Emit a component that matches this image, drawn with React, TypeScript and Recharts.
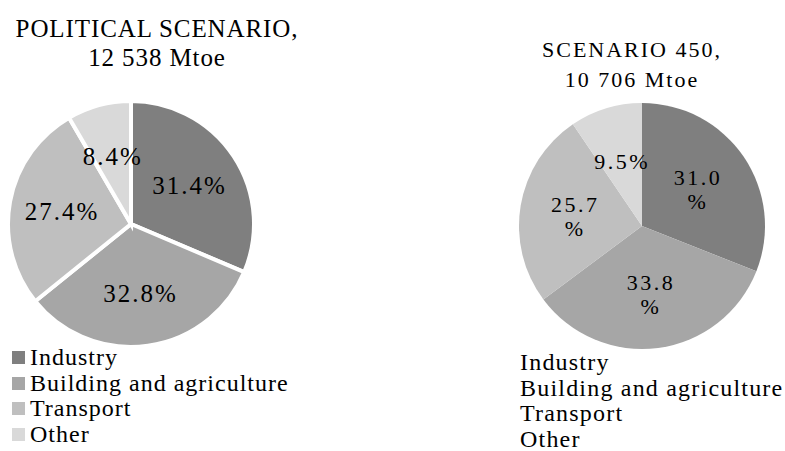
import { PieChart, Pie, Cell } from 'recharts';

const SERIF = '"Liberation Serif", "Times New Roman", serif';

const categories = ['Industry', 'Building and agriculture', 'Transport', 'Other'];
const politicalShares = [31.4, 32.8, 27.4, 8.4];
const scenario450Shares = [31.0, 33.8, 25.7, 9.5];
const COLORS = ['#7f7f7f', '#a6a6a6', '#bfbfbf', '#d9d9d9'];

const politicalData = categories.map((name, i) => ({ name, value: politicalShares[i] }));
const scenarioData = categories.map((name, i) => ({ name, value: scenario450Shares[i] }));

const RAD = Math.PI / 180;

function labelAt(factor: number, split: boolean) {
  return (props: any) => {
    const { cx, cy, midAngle, outerRadius, value, index } = props;
    const r = outerRadius * factor;
    const x = cx + r * Math.cos(-midAngle * RAD);
    const y = cy + r * Math.sin(-midAngle * RAD);
    const txt = value.toFixed(1);
    // the small slice keeps its label on one line
    if (split && index !== 3) {
      return (
        <text x={x} y={y} textAnchor="middle" fill="#000" fontSize={22} letterSpacing={2.5} fontFamily={SERIF}>
          <tspan x={x} dy={-3}>{txt}</tspan>
          <tspan x={x} dy={24}>%</tspan>
        </text>
      );
    }
    return (
      <text
        x={x}
        y={y}
        textAnchor="middle"
        dominantBaseline="central"
        fill="#000"
        fontSize={split ? 22 : 25}
        letterSpacing={split ? 2.5 : 2}
        fontFamily={SERIF}
      >
        {txt}%
      </text>
    );
  };
}

function LegendList({ icons, left, top, spacing }: { icons: boolean; left: number; top: number; spacing: number }) {
  return (
    <div style={{ position: 'absolute', left, top, fontFamily: SERIF, fontSize: 24, letterSpacing: spacing, lineHeight: '25.5px', color: '#000' }}>
      {categories.map((name, i) => (
        <div key={name} style={{ display: 'flex', alignItems: 'center', whiteSpace: 'nowrap' }}>
          {icons && (
            <span style={{ display: 'inline-block', width: 13, height: 13, background: COLORS[i], marginRight: 5 }} />
          )}
          {name}
        </div>
      ))}
    </div>
  );
}

export default function App() {
  return (
    <div style={{ position: 'absolute', left: 0, top: 0, width: 785, height: 451, background: '#fff', overflow: 'hidden' }}>
      <div style={{ position: 'absolute', left: 0, top: 14, width: 314, textAlign: 'center', fontFamily: SERIF, fontSize: 25, letterSpacing: 0.9, lineHeight: '29px' }}>
        POLITICAL SCENARIO,<br />12 538 Mtoe
      </div>
      <div style={{ position: 'absolute', left: 522, top: 35, width: 220, textAlign: 'center', fontFamily: SERIF, fontSize: 22, letterSpacing: 2, lineHeight: '30px' }}>
        SCENARIO 450,<br />10 706 Mtoe
      </div>

      <div style={{ position: 'absolute', left: 0, top: 92 }}>
        <PieChart width={270} height={264}>
          <Pie
            data={politicalData}
            dataKey="value"
            nameKey="name"
            cx={126}
            cy={127}
            outerRadius={123}
            startAngle={90}
            endAngle={-270}
            stroke="#fff"
            strokeWidth={4}
            labelLine={false}
            label={labelAt(0.57, false)}
            isAnimationActive={false}
          >
            {politicalData.map((d, i) => (
              <Cell key={d.name} fill={COLORS[i]} />
            ))}
          </Pie>
        </PieChart>
      </div>
      <LegendList icons left={12} top={345} spacing={1} />

      <div style={{ position: 'absolute', left: 505, top: 92 }}>
        <PieChart width={280} height={264}>
          <Pie
            data={scenarioData}
            dataKey="value"
            nameKey="name"
            cx={132}
            cy={129}
            outerRadius={123}
            startAngle={90}
            endAngle={-270}
            stroke="none"
            labelLine={false}
            label={labelAt(0.55, true)}
            isAnimationActive={false}
          >
            {scenarioData.map((d, i) => (
              <Cell key={d.name} fill={COLORS[i]} />
            ))}
          </Pie>
        </PieChart>
      </div>
      <LegendList icons={false} left={520} top={350} spacing={1.2} />
    </div>
  );
}
